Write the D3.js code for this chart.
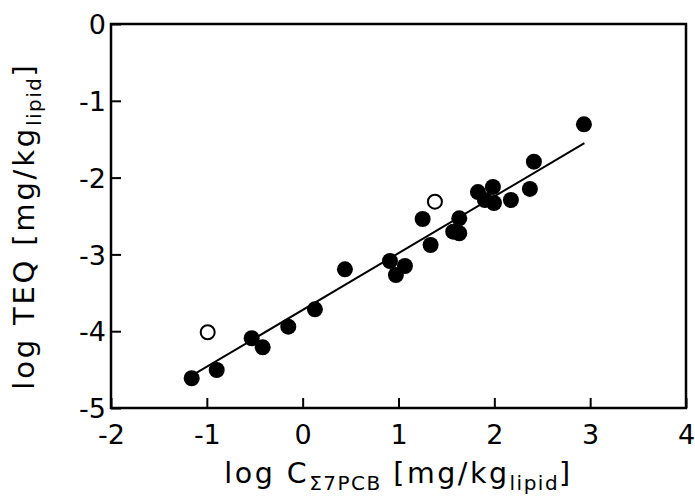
<!DOCTYPE html>
<html>
<head>
<meta charset="utf-8">
<script src="https://cdn.jsdelivr.net/npm/d3@7"></script>
<style>
  body { margin: 0; background: #fff; }
  text { font-family: "DejaVu Sans", Verdana, sans-serif; fill: #000; }
</style>
</head>
<body>
<div id="chart"></div>
<script>
      // filled points: log C (x), log TEQ (y)
      var filledX = [-1.158, -0.897, -0.532, -0.417, -0.150, 0.128, 0.441, 0.911, 0.973, 1.067,
                     1.252, 1.335, 1.571, 1.634, 1.634, 1.829, 1.985, 1.902, 1.996, 2.173,
                     2.371, 2.413, 2.935];
      var filledY = [-4.613, -4.505, -4.092, -4.210, -3.941, -3.715, -3.194, -3.086, -3.268, -3.151,
                     -2.539, -2.878, -2.704, -2.725, -2.530, -2.188, -2.122, -2.292, -2.331, -2.292,
                     -2.148, -1.793, -1.306];

      // open points
      var openX = [-0.991, 1.380];
      var openY = [-4.014, -2.314];

      // regression line end points
      var fitX = [-1.105, 2.94];
      var fitY = [-4.54, -1.55];

      var xTicks = [-2, -1, 0, 1, 2, 3, 4];
      var yTicks = [0, -1, -2, -3, -4, -5];

      var margin = {top: 24, right: 9, bottom: 89, left: 111};

      var width = 695 - margin.left - margin.right,
          height = 497 - margin.top - margin.bottom;

      var svg = d3.select("#chart").append("svg")
                .attr("width", 695)
                .attr("height", 497);

      var canvas = svg.append("g")
                .attr("transform", "translate(" + margin.left + "," + margin.top + ")");

      ////// Scales /////////////////
      var xScale = d3.scaleLinear().domain([-2, 4]).range([0, width]);
      var yScale = d3.scaleLinear().domain([-5, 0]).range([height, 0]);

      ////// Axes ///////////////////
      var xAxis = d3.axisBottom(xScale)
          .tickValues(xTicks)
          .tickSizeInner(-10)
          .tickSizeOuter(0)
          .tickPadding(0)
          .tickFormat(function(d) { return String(d); });

      var yAxis = d3.axisLeft(yScale)
          .tickValues(yTicks)
          .tickSizeInner(-10)
          .tickSizeOuter(0)
          .tickPadding(5)
          .tickFormat(function(d) { return String(d); });

      var gx = canvas.append("g")
          .attr("class", "x axis")
          .attr("transform", "translate(0," + height + ")")
          .call(xAxis);

      var gy = canvas.append("g")
          .attr("class", "y axis")
          .call(yAxis);

      [gx, gy].forEach(function(g) {
          g.select(".domain").remove();
          g.selectAll("line").attr("stroke", "#000").attr("stroke-width", 2);
          g.selectAll("text")
            .style("font-family", "'DejaVu Sans', Verdana, sans-serif")
            .style("font-size", "27px");
      });

      gx.selectAll("text").attr("y", 36).attr("dy", null);
      gy.selectAll("text").attr("dy", "0.36em");

      // frame
      canvas.append("rect")
          .attr("x", 0).attr("y", 0)
          .attr("width", width).attr("height", height)
          .attr("fill", "none")
          .attr("stroke", "#000")
          .attr("stroke-width", 2.5);

      // regression line
      canvas.append("line")
          .attr("x1", xScale(fitX[0])).attr("y1", yScale(fitY[0]))
          .attr("x2", xScale(fitX[1])).attr("y2", yScale(fitY[1]))
          .attr("stroke", "#000")
          .attr("stroke-width", 2);

      var filled = filledX.map(function(x, i) { return {x: x, y: filledY[i]}; });
      var open = openX.map(function(x, i) { return {x: x, y: openY[i]}; });

      canvas.append("g")
          .selectAll("circle")
          .data(filled)
          .enter()
          .append("circle")
          .attr("cx", function(d) { return xScale(d.x); })
          .attr("cy", function(d) { return yScale(d.y); })
          .attr("r", 8)
          .attr("fill", "#000");

      canvas.append("g")
          .selectAll("circle")
          .data(open)
          .enter()
          .append("circle")
          .attr("cx", function(d) { return xScale(d.x); })
          .attr("cy", function(d) { return yScale(d.y); })
          .attr("r", 7)
          .attr("fill", "#fff")
          .attr("stroke", "#000")
          .attr("stroke-width", 2);

      // axis titles
      var xTitle = svg.append("text")
          .attr("x", margin.left + width / 2)
          .attr("y", 483)
          .attr("text-anchor", "middle")
          .style("font-size", "28.5px")
          .style("letter-spacing", "2.5px");
      xTitle.append("tspan").text("log C");
      xTitle.append("tspan").attr("dy", 7).style("font-size", "20px").style("letter-spacing", "1.5px").text("\u03A37PCB");
      xTitle.append("tspan").attr("dy", -7).text(" [mg/kg");
      xTitle.append("tspan").attr("dy", 7).style("font-size", "20px").style("letter-spacing", "1.5px").text("lipid");
      xTitle.append("tspan").attr("dy", -7).text("]");

      var yTitle = svg.append("text")
          .attr("transform", "translate(34," + (margin.top + height / 2 + 10) + ") rotate(-90)")
          .attr("text-anchor", "middle")
          .style("font-size", "29px")
          .style("letter-spacing", "2.8px");
      yTitle.append("tspan").text("log TEQ [mg/kg");
      yTitle.append("tspan").attr("dy", 7).style("font-size", "20px").style("letter-spacing", "1.5px").text("lipid");
      yTitle.append("tspan").attr("dy", -7).text("]");
</script>
</body>
</html>
